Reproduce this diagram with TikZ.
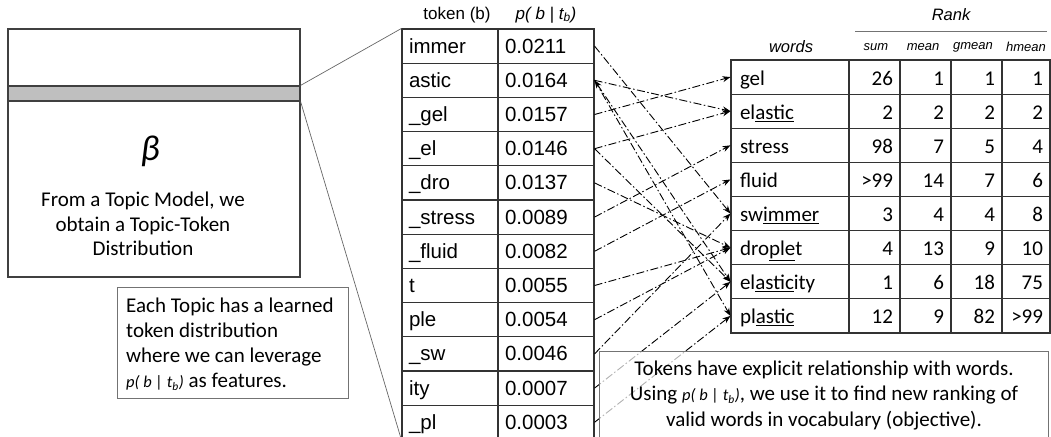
\documentclass[tikz,border=0pt]{standalone}
\usepackage{fontspec}
\setmainfont{Carlito}
\newfontfamily\arialf{Liberation Sans}
\usetikzlibrary{arrows.meta}
\begin{document}
\begin{tikzpicture}[x=1pt,y=-1pt,
  frame/.style={draw=black!75, line width=1.2pt, inner sep=0pt},
  tokcell/.style={draw=black!80, line width=1.1pt, minimum height=34.2pt, inner ysep=0pt, inner xsep=7pt,
    text width=82pt, align=left, text height=16pt, text depth=2pt, font=\arialf\fontsize{20.5}{24}\selectfont},
  wordcell/.style={draw=black!80, line width=1.1pt, minimum height=34.1pt, inner ysep=0pt, inner xsep=9pt,
    text width=100pt, align=left, text height=17pt, text depth=1pt, font=\fontsize{21}{24}\selectfont},
  numcell/.style={draw=black!80, line width=1.1pt, minimum height=34.1pt, inner ysep=0pt, inner xsep=7pt,
    text width=#1, align=right, text height=17pt, text depth=1pt, font=\fontsize{21}{24}\selectfont},
  hdr/.style={font=\arialf\fontsize{17}{20}\selectfont, inner sep=0pt},
  subhdr/.style={font=\arialf\itshape\fontsize{13}{16}\selectfont, inner sep=0pt},
  conn/.style={line width=0.9pt, dash pattern=on 8pt off 2.5pt on 1.5pt off 2.5pt, -{Stealth[length=8pt,width=6pt]}},
  zoomline/.style={draw=black!60, line width=0.7pt},
  note/.style={draw=black!55, line width=1pt, fill=white}
]
\useasboundingbox (0,0) rectangle (1051,436);

% topic box
\node[frame, minimum width=292pt, minimum height=248pt] (topic) at (154,153) {};
\node[frame, fill=black!25, minimum width=292pt, minimum height=15pt] (band) at (154,93.5) {};
\node[inner sep=0pt] (beta) at (150,151) {\fontsize{36}{36}\selectfont\itshape β};
\node[align=center, font=\fontsize{21}{24.5}\selectfont, inner sep=0pt] (desc) at (143,224)
  {From a Topic Model, we\\obtain a Topic-Token\\Distribution};

\node[note, anchor=north west, minimum width=231pt, minimum height=111pt, inner sep=0pt] (learnedbox) at (117,287) {};
\node[anchor=north west, align=left, inner sep=0pt, font=\fontsize{21}{25}\selectfont] (learned) at (126,298)
  {Each Topic has a learned\\token distribution\\where we can leverage\\{\fontsize{16.5}{16}\selectfont\itshape p( b | t\textsubscript{b})} as features.};

% token table
\node[hdr] (hTok) at (457,15) {token (b)};
\node[hdr] (hProb) at (546,15) {\itshape p( b | t\textsubscript{b})};
\foreach \t/\p [count=\i] in {immer/0.0211, astic/0.0164, \_gel/0.0157, \_el/0.0146, \_dro/0.0137,
  \_stress/0.0089, \_fluid/0.0082, t/0.0055, ple/0.0054, \_sw/0.0046, ity/0.0007, \_pl/0.0003}{
  \node[tokcell] (tk\i) at (450,{29+34.2*(\i-0.5)}) {\t};
  \node[tokcell] (tp\i) at (546,{29+34.2*(\i-0.5)}) {\p};
}

% words table
\node[font=\arialf\itshape\fontsize{16.5}{20}\selectfont, inner sep=0pt] (hRank) at (951,15) {Rank};
\draw[draw=black!55, line width=0.8pt] (855,31) coordinate (rl) -- (1047,31) coordinate (rr);
\node[font=\arialf\itshape\fontsize{16.5}{20}\selectfont, inner sep=0pt] (hWords) at (791,47) {words};
\node[subhdr] (hSum) at (876,47) {sum};
\node[subhdr] (hMean) at (923,47) {mean};
\node[subhdr] (hGmean) at (973,47) {gmean};
\node[subhdr] (hHmean) at (1026,47) {hmean};
\foreach \w/\a/\b/\c/\d [count=\i] in {gel/26/1/1/1, {el\underline{astic}}/2/2/2/2, stress/98/7/5/4,
  fluid/>99/14/7/6, {sw\underline{immer}}/3/4/4/8, {dro\underline{ple}t}/4/13/9/10,
  {el\underline{astic}ity}/1/6/18/75, {pl\underline{astic}}/12/9/82/>99}{
  \node[wordcell] (w\i) at (790,{60+34.125*(\i-0.5)}) {\w};
  \node[numcell=37pt] (s\i) at (874.5,{60+34.125*(\i-0.5)}) {\a};
  \node[numcell=37pt] (m\i) at (925.5,{60+34.125*(\i-0.5)}) {\b};
  \node[numcell=37pt] (g\i) at (976.5,{60+34.125*(\i-0.5)}) {\c};
  \node[numcell=34pt] (h\i) at (1026,{60+34.125*(\i-0.5)}) {\d};
}

% connectors
\draw[conn] (tp1.east) -- (w5.west);
\draw[conn] (tp2.east) -- (w2.west);
\draw[conn, {Stealth[length=8pt,width=6pt]}-{Stealth[length=8pt,width=6pt]}] (tp2.east) -- (w7.west);
\draw[conn] (tp2.east) -- (w8.west);
\draw[conn] (tp3.east) -- (w1.west);
\draw[conn] (tp4.east) -- (w2.west);
\draw[conn] (tp4.east) -- (w7.west);
\draw[conn] (tp5.east) -- (w6.west);
\draw[conn] (tp6.east) -- (w3.west);
\draw[conn] (tp7.east) -- (w4.west);
\draw[conn] (tp8.east) -- (w6.west);
\draw[conn] (tp9.east) -- (w6.west);
\draw[conn] (tp10.east) -- (w5.west);
\draw[conn] (tp11.east) -- (w7.west);
\draw[conn] (tp12.east) -- (w8.west);

% zoom lines
\draw[zoomline] (band.north east) -- (tk1.north west);
\draw[zoomline] (band.south east) -- (tk12.south west);

% objective note
\node[note, fill opacity=0.7, text opacity=1, anchor=north west, minimum width=449pt, inner ysep=9pt,
  align=center, font=\fontsize{21}{25.5}\selectfont] (objective) at (599,351)
  {Tokens have explicit relationship with words.\\Using {\fontsize{16.5}{16}\selectfont\itshape p( b | t\textsubscript{b})}, we use it to find new ranking of\\valid words in vocabulary (objective).};
\end{tikzpicture}
\end{document}
